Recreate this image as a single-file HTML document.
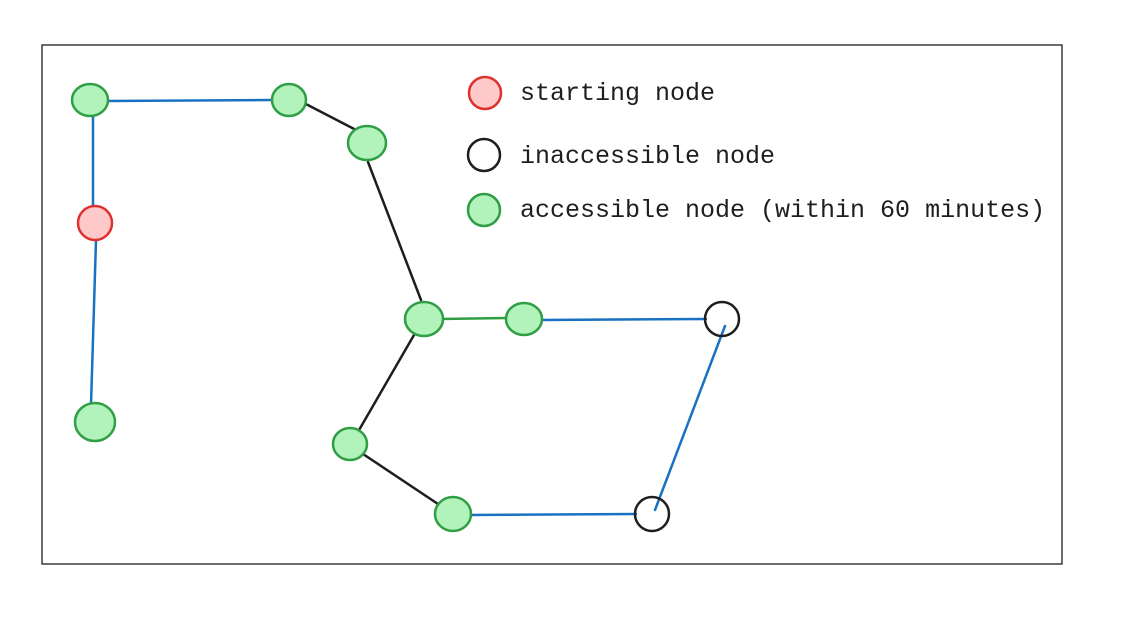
<!DOCTYPE html>
<html><head><meta charset="utf-8"><style>html,body{margin:0;padding:0;background:#fff}svg{display:block}</style></head>
<body>
<svg width="1132" height="618" viewBox="0 0 1132 618" xmlns="http://www.w3.org/2000/svg">
<rect x="42" y="45" width="1020" height="519" fill="#fff" stroke="#1e1e1e" stroke-width="1.3"/>
<g stroke-width="2.5" stroke-linecap="round" fill="none">
<line x1="108" y1="101" x2="272" y2="100" stroke="#1971c2"/>
<line x1="93" y1="110" x2="93" y2="208" stroke="#1971c2"/>
<line x1="96" y1="240" x2="91" y2="405" stroke="#1971c2"/>
<line x1="302" y1="102" x2="358" y2="131" stroke="#1e1e1e"/>
<line x1="368" y1="162" x2="421" y2="300" stroke="#1e1e1e"/>
<line x1="440" y1="319" x2="507" y2="318" stroke="#2f9e44"/>
<line x1="540" y1="320" x2="706" y2="319" stroke="#1971c2"/>
<line x1="725" y1="326" x2="655" y2="510" stroke="#1971c2"/>
<line x1="414" y1="335" x2="355" y2="437" stroke="#1e1e1e"/>
<line x1="357" y1="450" x2="441" y2="506" stroke="#1e1e1e"/>
<line x1="470" y1="515" x2="636" y2="514" stroke="#1971c2"/>
</g>
<g fill="#b2f2bb" stroke="#2f9e44" stroke-width="2.5">
<ellipse cx="90" cy="100" rx="18" ry="16"/>
<ellipse cx="289" cy="100" rx="17" ry="16"/>
<ellipse cx="367" cy="143" rx="19" ry="17"/>
<ellipse cx="95" cy="422" rx="20" ry="19"/>
<ellipse cx="424" cy="319" rx="19" ry="17"/>
<ellipse cx="524" cy="319" rx="18" ry="16"/>
<ellipse cx="350" cy="444" rx="17" ry="16"/>
<ellipse cx="453" cy="514" rx="18" ry="17"/>
<circle cx="484" cy="210" r="16"/>
</g>
<g fill="#ffc9c9" stroke="#e03131" stroke-width="2.5">
<ellipse cx="95" cy="223" rx="17" ry="17"/>
<circle cx="485" cy="93" r="16"/>
</g>
<g fill="none" stroke="#1e1e1e" stroke-width="2.5">
<circle cx="722" cy="319" r="17"/>
<circle cx="652" cy="514" r="17"/>
<circle cx="484" cy="155" r="16"/>
</g>
<g font-family="Liberation Mono, monospace" font-size="25" fill="#1e1e1e">
<text x="520" y="100">starting node</text>
<text x="520" y="163">inaccessible node</text>
<text x="520" y="217">accessible node (within 60 minutes)</text>
</g>
</svg>
</body></html>
